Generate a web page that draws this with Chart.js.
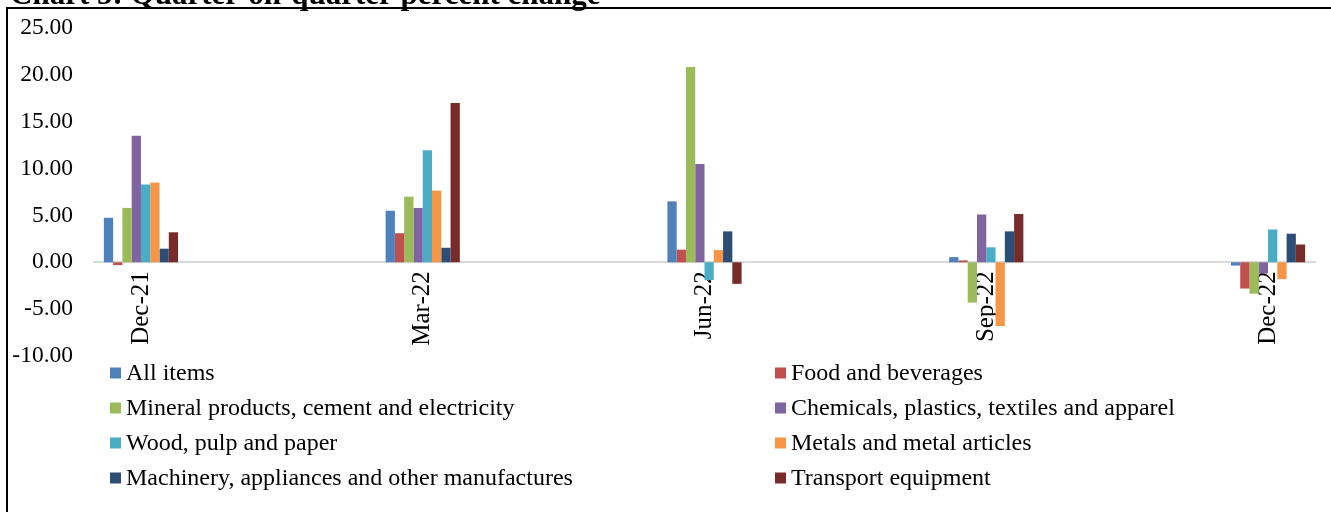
<!DOCTYPE html>
<html><head><meta charset="utf-8">
<script src="https://cdn.jsdelivr.net/npm/chart.js@4/dist/chart.umd.min.js"></script>
<style>html,body{margin:0;padding:0;background:#fff;overflow:hidden}
#wrap{position:relative;width:1331px;height:512px}</style></head><body>
<div id="wrap"><canvas id="c" width="1331" height="512"></canvas></div>
<script>
const chartTitle = 'Chart 5: Quarter-on-quarter percent change';
const quarters = ['Dec-21', 'Mar-22', 'Jun-22', 'Sep-22', 'Dec-22'];
const seriesNames = ['All items', 'Food and beverages', 'Mineral products, cement and electricity',
  'Chemicals, plastics, textiles and apparel', 'Wood, pulp and paper', 'Metals and metal articles',
  'Machinery, appliances and other manufactures', 'Transport equipment'];
const allItems  = [4.75, 5.5, 6.5, 0.55, -0.35];
const food      = [-0.3, 3.1, 1.35, 0.2, -2.8];
const mineral   = [5.8, 7.0, 20.85, -4.3, -3.35];
const chemicals = [13.5, 5.8, 10.5, 5.1, -1.2];
const wood      = [8.3, 11.95, -1.9, 1.6, 3.5];
const metals    = [8.5, 7.65, 1.3, -6.8, -1.8];
const machinery = [1.45, 1.55, 3.3, 3.3, 3.05];
const transport = [3.2, 17.0, -2.3, 5.15, 1.9];
const yTicks = [25, 20, 15, 10, 5, 0, -5, -10];
const colors = ['#4F81BD', '#C0504D', '#9BBB59', '#8064A2', '#4BACC6', '#F79646', '#2C4D75', '#772C2A'];

// Quarterly points on a monthly (date-like) axis: 13 month slots, quarters every 3 months
const monthsPerQuarter = 3;
const slotCount = (quarters.length - 1) * monthsPerQuarter + 1;
const slotLabels = Array.from({length: slotCount}, (_, i) => i % monthsPerQuarter === 0 ? quarters[i / monthsPerQuarter] : '');
const toSlots = vals => Array.from({length: slotCount}, (_, i) => i % monthsPerQuarter === 0 ? vals[i / monthsPerQuarter] : null);
const seriesValues = [allItems, food, mineral, chemicals, wood, metals, machinery, transport];

const serif = '"Liberation Serif", "Times New Roman", serif';

const decorPlugin = {
  id: 'decor',
  afterDraw(chart) {
    const ctx = chart.ctx;
    ctx.save();
    // frame
    ctx.strokeStyle = '#000';
    ctx.lineWidth = 2;
    ctx.beginPath();
    ctx.moveTo(7, 512); ctx.lineTo(7, 8); ctx.lineTo(1331, 8);
    ctx.stroke();
    // clipped title
    ctx.fillStyle = '#000';
    ctx.font = 'bold 31px ' + serif;
    ctx.textBaseline = 'alphabetic';
    ctx.textAlign = 'left';
    ctx.fillText(chartTitle, 10, 4);
    // two-column legend
    ctx.font = '24px ' + serif;
    ctx.textBaseline = 'middle';
    chart.data.datasets.forEach((ds, i) => {
      const col = i % 2, row = Math.floor(i / 2);
      const bx = col ? 775 : 110;
      const cy = 373 + row * 35;
      ctx.fillStyle = ds.backgroundColor;
      ctx.fillRect(bx, cy - 5.5, 11, 11);
      ctx.fillStyle = '#000';
      ctx.fillText(ds.label, bx + 16, cy + 1);
    });
    ctx.restore();
  }
};

new Chart(document.getElementById('c'), {
  type: 'bar',
  data: {
    labels: slotLabels,
    datasets: seriesNames.map((name, i) => ({
      label: name,
      data: toSlots(seriesValues[i]),
      backgroundColor: colors[i],
      borderWidth: 0,
      categoryPercentage: 0.79,
      barPercentage: 1.0
    }))
  },
  options: {
    responsive: false,
    animation: false,
    devicePixelRatio: 1,
    layout: {padding: {left: 0, top: 28, right: 16, bottom: 156}},
    plugins: {legend: {display: false}, title: {display: false}, tooltip: {enabled: false}},
    scales: {
      x: {
        position: {y: 0},
        grid: {display: false, drawTicks: false},
        border: {display: true, color: '#D9D9D9', width: 2},
        ticks: {
          autoSkip: false, minRotation: 90, maxRotation: 90, padding: 9,
          color: '#000', font: {family: serif, size: 25}
        }
      },
      y: {
        min: -10, max: 25,
        afterBuildTicks: s => { s.ticks = yTicks.map(v => ({value: v})); },
        afterFit: s => { s.width = 94; },
        grid: {display: false, drawTicks: false},
        border: {display: false},
        ticks: {
          padding: 21, color: '#000', font: {family: serif, size: 23.5, lineHeight: 0.3},
          callback: v => Number(v).toFixed(2)
        }
      }
    }
  },
  plugins: [decorPlugin]
});
</script></body></html>
